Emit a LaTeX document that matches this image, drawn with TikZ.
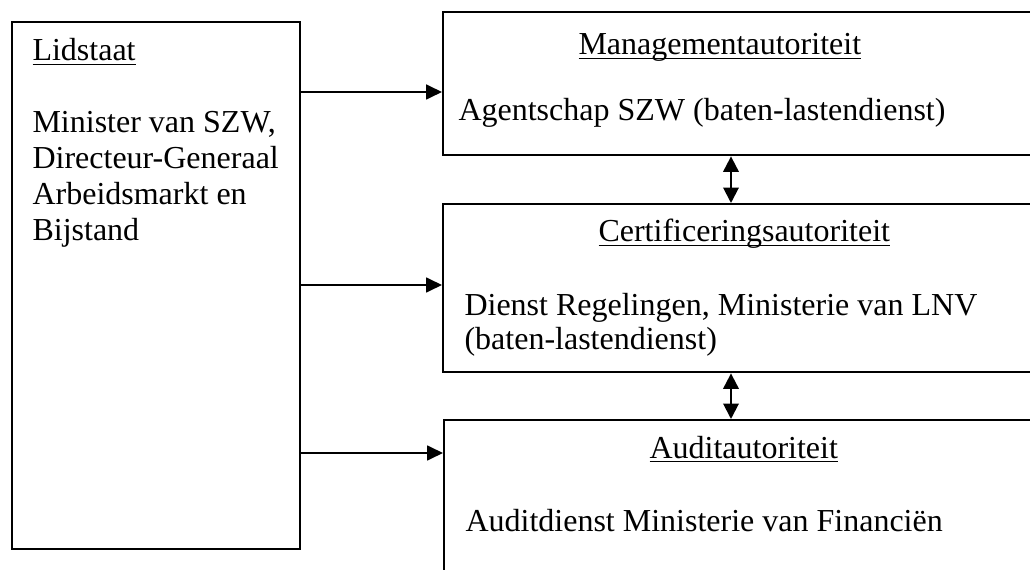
\documentclass[tikz,border=0pt]{standalone}
\usepackage{fontspec}
\setmainfont{Liberation Serif}
\usetikzlibrary{arrows.meta}
\newcommand\myul[1]{\setbox0\hbox{#1}\rlap{\rule[-1.6pt]{\wd0}{0.6pt}}\box0}
\tikzset{
  boxnode/.style={draw, line width=0.9pt, inner sep=0pt, anchor=north west},
  txt/.style={inner sep=0pt, anchor=base west, font=\fontsize{12}{13.5}\selectfont},
  arr/.style={line width=0.75pt, -{Triangle[length=6pt,width=5.6pt]}},
  darr/.style={line width=0.75pt, {Triangle[length=5.8pt,width=5.8pt]}-{Triangle[length=5.8pt,width=5.8pt]}}
}
\begin{document}
\begin{tikzpicture}[x=0.375pt,y=-0.375pt]
\useasboundingbox (0,0) rectangle (1030,570);
\clip (0,0) rectangle (1030,570);
% boxes
\node[boxnode, minimum width=288*0.375pt, minimum height=527*0.375pt] (lid) at (11,21) {};
\node[boxnode, minimum width=640*0.375pt, minimum height=143*0.375pt] (mgmt) at (442,11) {};
\node[boxnode, minimum width=640*0.375pt, minimum height=168*0.375pt] (cert) at (442,203) {};
\node[boxnode, minimum width=640*0.375pt, minimum height=200*0.375pt] (audit) at (443,419) {};
% texts
\node[txt] (t1) at (32,61) {\myul{Lidstaat}};
\node[txt] (t2) at (32,133) {Minister van SZW,};
\node[txt] (t3) at (32,169) {Directeur-Generaal};
\node[txt] (t4) at (32,205) {Arbeidsmarkt en};
\node[txt] (t5) at (32,241) {Bijstand};
\node[txt] (t6) at (578,55) {\myul{Managementautoriteit}};
\node[txt] (t7) at (458,121) {Agentschap SZW (baten-lastendienst)};
\node[txt] (t8) at (598,242) {\myul{Certificeringsautoriteit}};
\node[txt] (t9) at (464,316) {Dienst Regelingen, Ministerie van LNV};
\node[txt] (t10) at (464,350) {(baten-lastendienst)};
\node[txt] (t11) at (649,458) {\myul{Auditautoriteit}};
\node[txt] (t12) at (465,532) {Auditdienst Ministerie van Financiën};
% connectors
\draw[arr] (lid.east |- 0,92) -- (mgmt.west |- 0,92);
\draw[arr] (lid.east |- 0,285) -- (cert.west |- 0,285);
\draw[arr] (lid.east |- 0,453) -- (audit.west |- 0,453);
\draw[darr] (mgmt.south -| 731,0) -- (cert.north -| 731,0);
\draw[darr] (cert.south -| 731,0) -- (audit.north -| 731,0);
\end{tikzpicture}
\end{document}
